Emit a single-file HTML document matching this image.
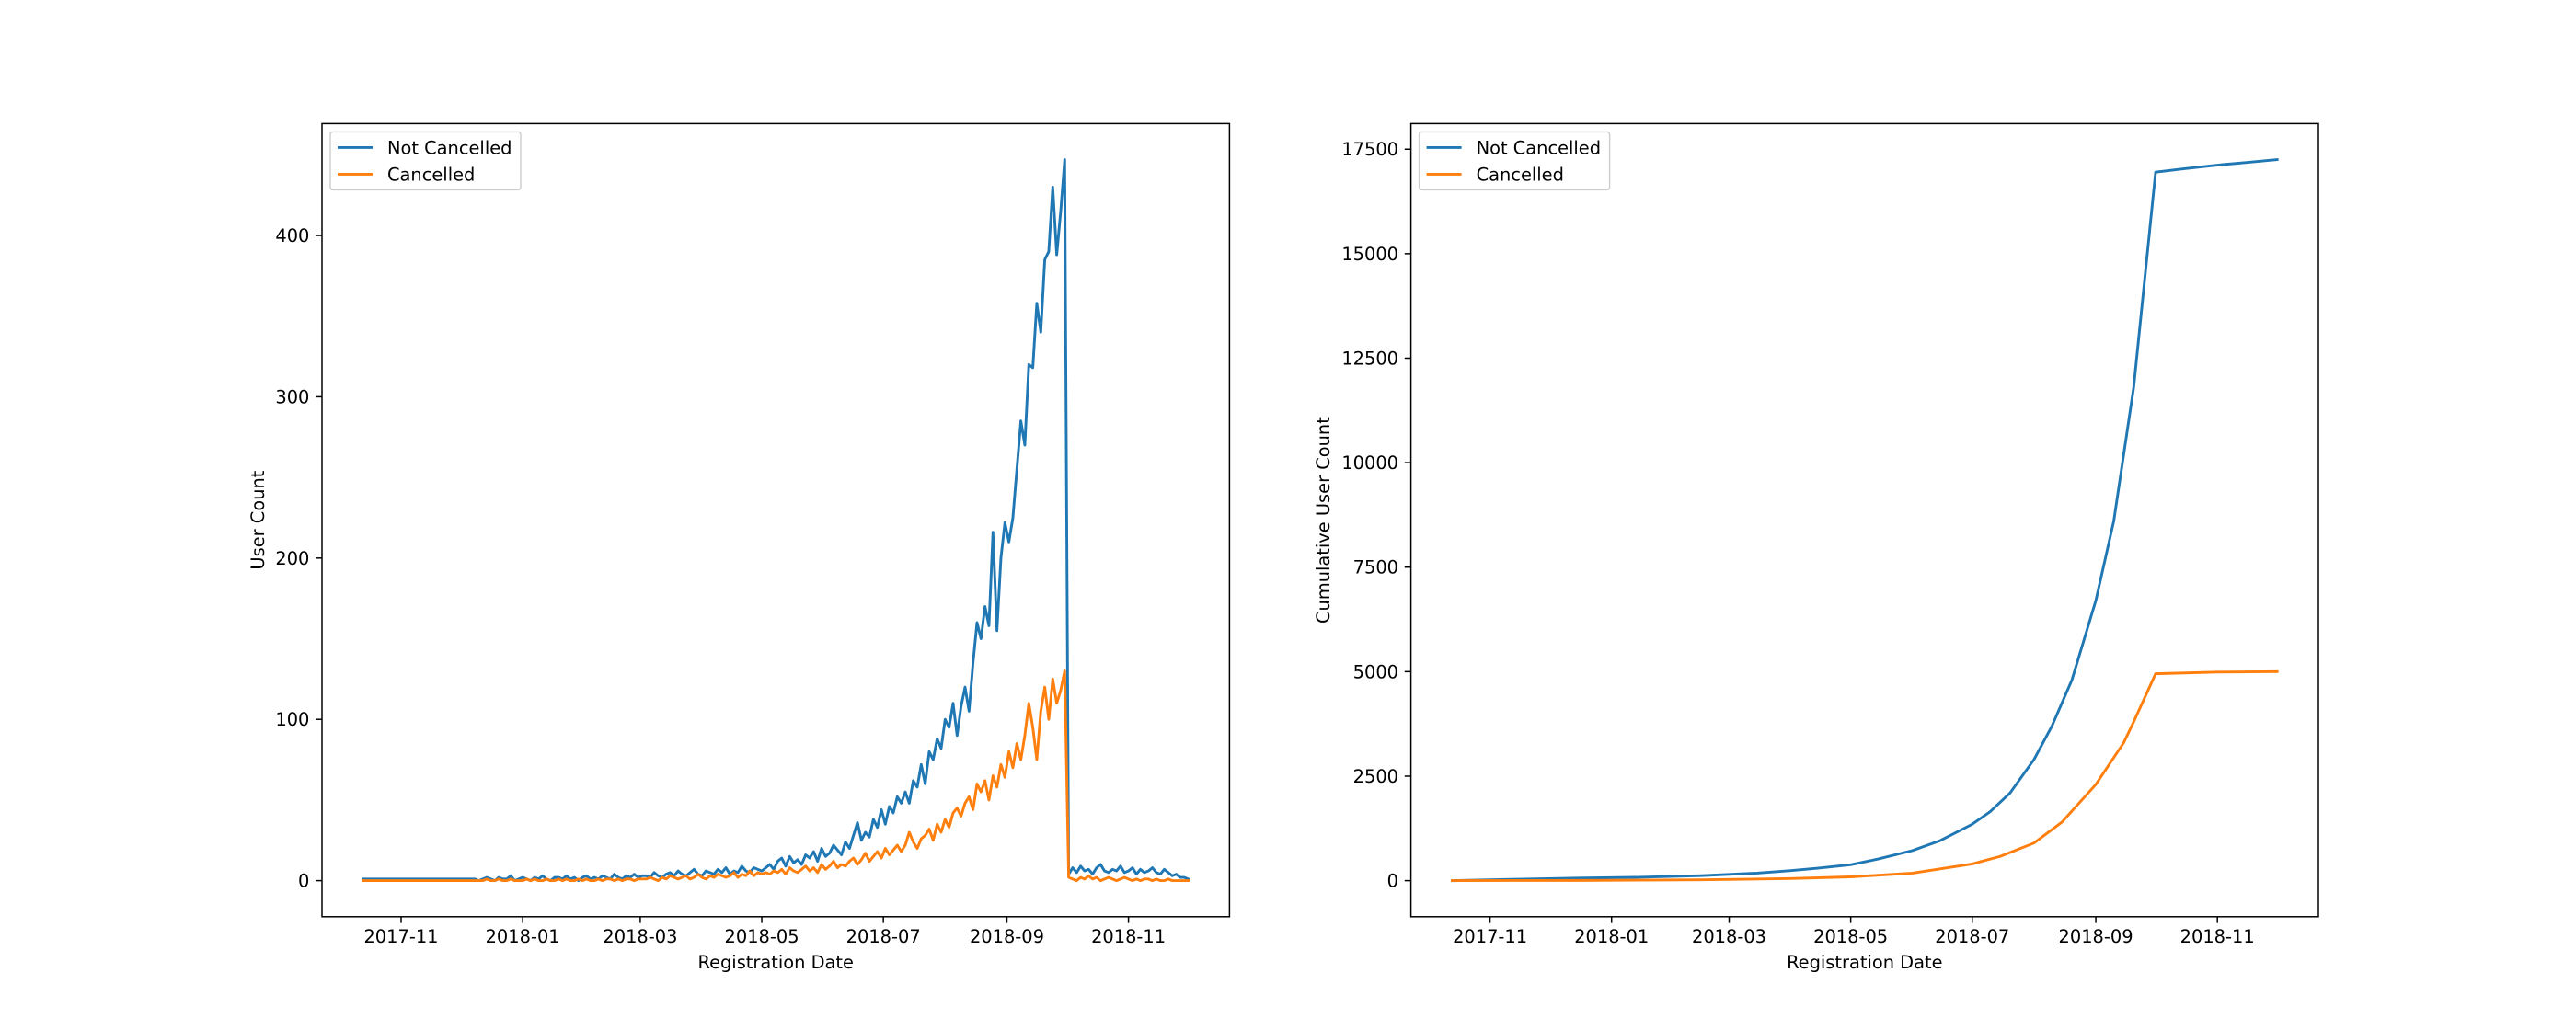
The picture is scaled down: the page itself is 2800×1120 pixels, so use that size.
<!DOCTYPE html>
<html><head><meta charset="utf-8">
<style>
html,body{margin:0;padding:0;background:#fff;}
svg{display:block;font-family:"DejaVu Sans","Liberation Sans",sans-serif;}
</style></head>
<body>
<svg id="fig" width="2800" height="1120" viewBox="0 0 2800 1120" xmlns="http://www.w3.org/2000/svg"></svg>
<script>
// ---- Left chart data (values every 2 days from start date) ----
const startDate = "2017-10-13";
const stepDays = 2;
const dailyNotCancelled = [
1,1,1,1,1,1,1,1,1,1,1,1,1,1,1,1,1,1,1,1,1,1,1,1,1,1,1,1,1,
0,1,2,1,0,2,1,1,3,0,1,2,1,0,2,1,3,1,0,2,2,1,3,1,2,0,2,3,1,2,1,3,2,1,4,2,1,3,2,4,2,3,
3,2,5,3,2,4,5,3,6,4,3,5,7,4,3,6,5,4,7,5,8,4,6,5,9,6,5,8,7,6,
8,10,7,12,14,9,15,11,13,10,16,14,18,12,20,15,17,22,19,16,
24,20,28,36,25,30,27,38,33,44,35,46,42,52,48,
55,48,62,58,72,60,80,75,88,82,100,95,110,90,108,
120,105,135,160,150,170,158,216,155,200,222,210,225,255,285,
270,320,318,358,340,385,390,430,388,415,447,
4,8,5,9,6,7,4,8,10,6,5,7,6,9,5,6,8,4,7,5,6,8,5,4,7,5,3,4,2,2,1];
const dailyCancelled = [
0,0,0,0,0,0,0,0,0,0,0,0,0,0,0,0,0,0,0,0,0,0,0,0,0,0,0,0,0,
0,0,1,0,0,1,0,0,1,0,0,0,1,0,1,0,0,1,0,0,1,0,1,0,0,1,0,1,0,0,1,0,1,1,0,1,0,1,1,0,1,1,
1,2,1,0,2,1,3,2,1,2,3,1,2,4,2,1,3,2,4,3,2,3,5,2,4,3,6,3,5,4,
5,4,6,5,7,4,8,6,5,7,9,6,8,5,10,7,9,12,8,10,
9,12,14,10,13,17,12,15,18,14,20,16,19,22,18,
22,30,24,20,26,28,32,25,35,30,38,33,42,45,40,
48,52,44,60,55,62,50,65,58,72,64,80,70,85,75,
90,110,95,75,105,120,100,125,110,118,130,
2,1,0,2,1,3,1,2,0,1,2,1,0,1,2,1,0,1,0,1,1,0,1,0,0,1,0,0,0,0,0];
const leftYTicks = [0,100,200,300,400];
// ---- Right chart data (cumulative) ----
const cumNotCancelledDates = ["2017-10-13","2017-11-15","2017-12-15","2018-01-15","2018-02-15","2018-03-15","2018-04-01","2018-04-15","2018-05-01","2018-05-15","2018-06-01","2018-06-15","2018-07-01","2018-07-10","2018-07-20","2018-08-01","2018-08-10","2018-08-20","2018-09-01","2018-09-10","2018-09-20","2018-10-01","2018-10-15","2018-11-01","2018-11-15","2018-12-01"];
const cumNotCancelledValues = [0,33,60,80,120,180,240,300,380,520,720,960,1350,1650,2100,2900,3700,4800,6700,8600,11800,16950,17030,17120,17180,17250];
const cumCancelledDates = ["2017-10-13","2017-12-15","2018-02-15","2018-04-01","2018-05-01","2018-06-01","2018-07-01","2018-07-15","2018-08-01","2018-08-15","2018-09-01","2018-09-15","2018-09-20","2018-10-01","2018-11-01","2018-12-01"];
const cumCancelledValues = [0,5,20,50,90,180,400,580,900,1400,2300,3300,3800,4950,4990,5000];
const rightYTicks = [0,2500,5000,7500,10000,12500,15000,17500];
const xTickLabels = ["2017-11","2018-01","2018-03","2018-05","2018-07","2018-09","2018-11"];
const xTickDates = ["2017-11-01","2018-01-01","2018-03-01","2018-05-01","2018-07-01","2018-09-01","2018-11-01"];

const NS="http://www.w3.org/2000/svg";
const svg=document.getElementById('fig');
const BLUE="#1f77b4", ORANGE="#ff7f0e", FS=19.4, TL=6.8, LW=2.9, SW=1.5;
function mk(tag,attrs,parent){const e=document.createElementNS(NS,tag);for(const k in attrs)e.setAttribute(k,attrs[k]);(parent||svg).appendChild(e);return e;}
const DAY=86400000;
const t0=Date.parse(startDate);
function dayOf(s){return (Date.parse(s)-t0)/DAY;}
const dayMax=dayOf("2018-12-01");

function axes(L,R,T,B,yMin,yMax,name){
  const g=mk('g',{});
  
  
  const w=R-L, pad=w/1.1*0.05, dw=w/1.1;
  const xs=d=>L+pad+d/dayMax*dw;
  const ys=v=>B-(v-yMin)/(yMax-yMin)*(B-T);
  return {g,xs,ys,L,R,T,B};
}
function drawFrame(ax,yticks){
  const {g,xs,ys,L,R,T,B}=ax;
  xTickDates.forEach((d,i)=>{
    const x=xs(dayOf(d));
    const t=mk('line',{x1:x,x2:x,y1:B,y2:B+TL,stroke:'#000','stroke-width':SW},g);
    
    
    const lb=mk('text',{x:x,y:B+28,'font-size':FS,'text-anchor':'middle',fill:'#000'},g);
    
    
    lb.textContent=xTickLabels[i];
  });
  yticks.forEach(v=>{
    const y=ys(v);
    const t=mk('line',{x1:L-TL,x2:L,y1:y,y2:y,stroke:'#000','stroke-width':SW},g);
    
    
    const lb=mk('text',{x:L-TL-6.8,y:y+7,'font-size':FS,'text-anchor':'end',fill:'#000'},g);
    
    
    lb.textContent=String(v);
  });
  const xl=mk('text',{x:(L+R)/2,y:B+56,'font-size':FS,'text-anchor':'middle',fill:'#000'},g);
  
  
  xl.textContent='Registration Date';
}
function line(ax,xsArr,vals,color,name){
  let d='';
  vals.forEach((v,i)=>{d+=(i?'L':'M')+ax.xs(xsArr[i]).toFixed(2)+','+ax.ys(v).toFixed(2);});
  const p=mk('path',{d:d,fill:'none',stroke:color,'stroke-width':LW,'stroke-linejoin':'round','stroke-linecap':'square'},ax.g);
  
  
}
function spines(ax){
  const r=mk('rect',{x:ax.L,y:ax.T,width:ax.R-ax.L,height:ax.B-ax.T,fill:'none',stroke:'#000','stroke-width':SW},ax.g);
  
  
}
function legend(ax,name){
  const g=mk('g',{},ax.g);
  
  
  const bx=ax.L+9, by=ax.T+9;
  mk('rect',{x:bx,y:by,width:207,height:63,rx:3,fill:'#fff','fill-opacity':0.8,stroke:'#ccc','stroke-width':1.4},g);
  [["Not Cancelled",BLUE],["Cancelled",ORANGE]].forEach((e,i)=>{
    const eg=mk('g',{},g);
    
    
    const y=by+17+i*29;
    mk('line',{x1:bx+8,x2:bx+46,y1:y,y2:y,stroke:e[1],'stroke-width':LW},eg);
    const t=mk('text',{x:bx+62,y:y+7,'font-size':FS,fill:'#000'},eg);
    t.textContent=e[0];
  });
}

// Left
const lMax=Math.max(...dailyNotCancelled), lPad=lMax*0.05;
const axL=axes(350,1336.4,134.4,996.8,-lPad,lMax+lPad,'left-chart');
drawFrame(axL,leftYTicks);
line(axL,dailyNotCancelled.map((v,i)=>i*stepDays),dailyNotCancelled,BLUE,'line-not-cancelled-daily');
line(axL,dailyCancelled.map((v,i)=>i*stepDays),dailyCancelled,ORANGE,'line-cancelled-daily');
spines(axL);
legend(axL,'left-legend');
const yl1=mk('text',{x:0,y:0,'font-size':FS,'text-anchor':'middle',fill:'#000',transform:'translate(287,565.6) rotate(-90)'});


yl1.textContent='User Count';

// Right
const rMax=Math.max(...cumNotCancelledValues), rPad=rMax*0.05;
const axR=axes(1533.6,2520,134.4,996.8,-rPad,rMax+rPad,'right-chart');
drawFrame(axR,rightYTicks);
line(axR,cumNotCancelledDates.map(dayOf),cumNotCancelledValues,BLUE,'line-not-cancelled-cumulative');
line(axR,cumCancelledDates.map(dayOf),cumCancelledValues,ORANGE,'line-cancelled-cumulative');
spines(axR);
legend(axR,'right-legend');
const yl2=mk('text',{x:0,y:0,'font-size':FS,'text-anchor':'middle',fill:'#000',transform:'translate(1445,565.6) rotate(-90)'});


yl2.textContent='Cumulative User Count';
</script>
</body></html>
